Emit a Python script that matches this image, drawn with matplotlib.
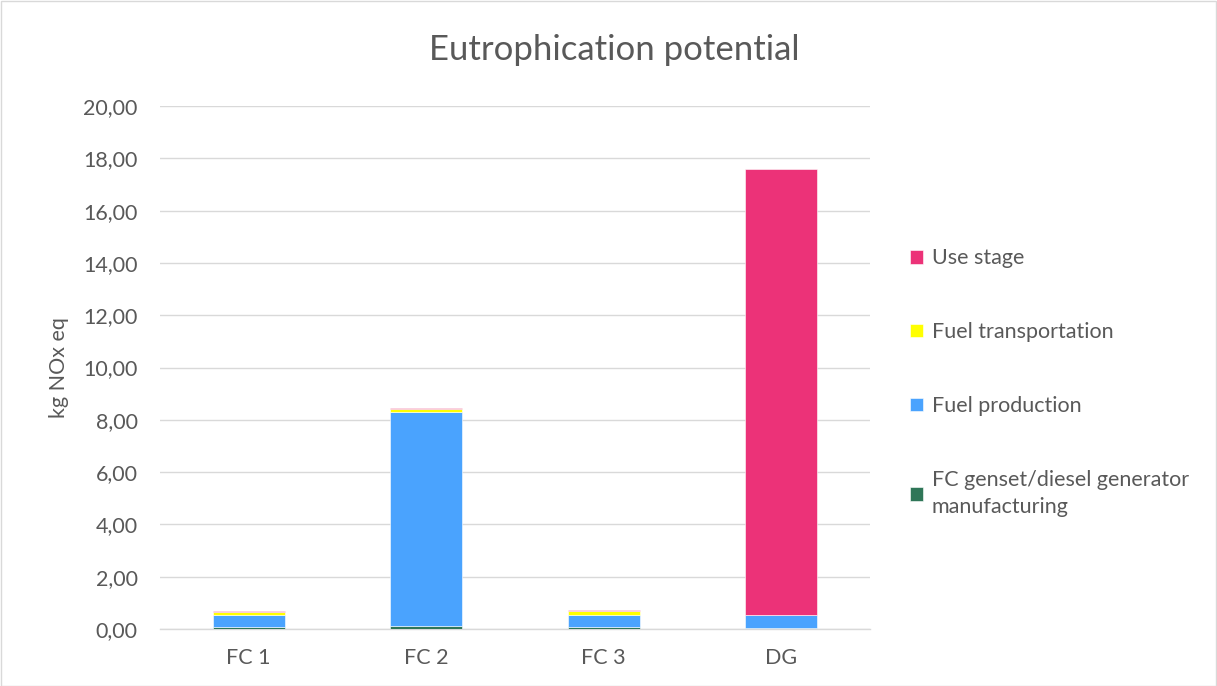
import numpy as np
import matplotlib
matplotlib.use('Agg')
import matplotlib.pyplot as plt
from matplotlib.patches import Rectangle

plt.rcParams['font.family'] = ['Lato', 'DejaVu Sans']

# stacked contributions, kg NOx eq
categories = ["FC 1", "FC 2", "FC 3", "DG"]
manufacturing = [0.09, 0.10, 0.09, 0.02]
fuel_production = [0.43, 8.19, 0.46, 0.50]
fuel_transport = [0.12, 0.12, 0.13, 0.01]
use_stage = [0.03, 0.04, 0.04, 17.05]

series = [
    ("FC genset/diesel generator\nmanufacturing", manufacturing, "#2F7658"),
    ("Fuel production", fuel_production, "#4AA3FE"),
    ("Fuel transportation", fuel_transport, "#FFFF00"),
    ("Use stage", use_stage, "#EC3278"),
]

text_col = "#595959"

fig = plt.figure(figsize=(12.17, 6.86), dpi=100)
ax = fig.add_axes([160 / 1217, 57 / 686, 710 / 1217, 523 / 686])

x = np.arange(len(categories))
bottom = np.zeros(len(categories))
handles = []
for name, vals, col in series:
    b = ax.bar(x, vals, width=0.405, bottom=bottom, color=col, label=name,
               edgecolor="white", linewidth=0.4, zorder=3)
    handles.append(b)
    bottom += np.array(vals)

ax.set_xlim(-0.5, len(categories) - 0.5)
ax.set_ylim(0, 20)
yt = np.arange(0, 21, 2)
ax.set_yticks(yt)
ax.set_yticklabels(["{:.2f}".format(v).replace(".", ",") for v in yt])
ax.set_xticks(x)
ax.set_xticklabels(categories)
ax.grid(axis="y", color="#D9D9D9", linewidth=1, zorder=0)
for s in ["top", "right", "left"]:
    ax.spines[s].set_visible(False)
ax.spines["bottom"].set_color("#D9D9D9")
ax.spines["bottom"].set_linewidth(1)
ax.tick_params(axis="both", length=0, labelsize=15.5, colors=text_col)
ax.tick_params(axis="x", pad=14)
ax.tick_params(axis="y", pad=16)
ax.set_ylabel("kg NOx eq", fontsize=15.5, color=text_col, labelpad=10)

fig.text(614 / 1217, 1 - 50 / 686, "Eutrophication potential", ha="center",
         va="center", fontsize=25, color=text_col)

leg = fig.legend(handles[::-1], [s[0] for s in series][::-1],
                 loc="upper left", bbox_to_anchor=(891 / 1217, 1 - 229 / 686),
                 frameon=False, fontsize=15.5, labelcolor=text_col,
                 handlelength=0.6, handleheight=0.6, handletextpad=0.4,
                 labelspacing=2.5)
for t in leg.get_texts():
    t.set_linespacing(1.45)

# chart area border
fig.patches.append(Rectangle((0.5 / 1217, 0.5 / 686), 1 - 1.5 / 1217, 1 - 1.5 / 686,
                             transform=fig.transFigure, fill=False,
                             edgecolor="#D9D9D9", linewidth=1))

fig.savefig("out.png", dpi=100)
